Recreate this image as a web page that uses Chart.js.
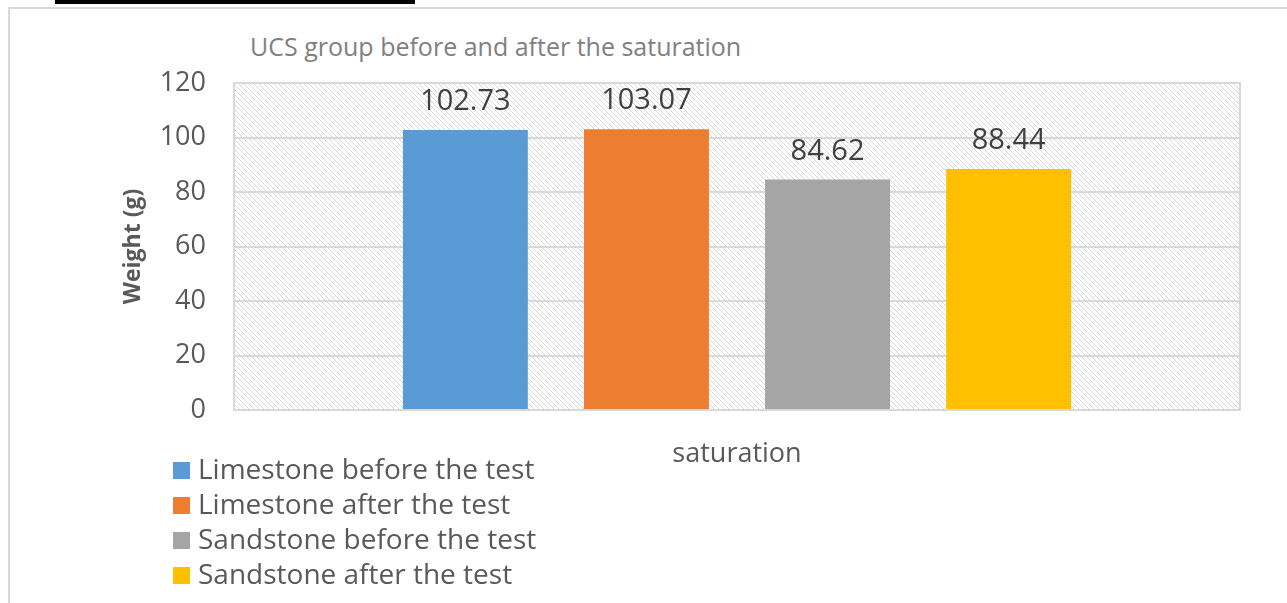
<!DOCTYPE html>
<html>
<head>
<meta charset="utf-8">
<script src="https://cdn.jsdelivr.net/npm/chart.js@4"></script>
<style>
  body { margin: 0; background: #fff; font-family: 'Open Sans', sans-serif; }
  #wrap { position: relative; width: 1287px; height: 603px; overflow: hidden; }
  #frame { position: absolute; left: 8px; top: 7px; width: 1400px; height: 700px;
           border-left: 2px solid #d9d9d9; border-top: 2px solid #d9d9d9; }
  #blackbar { position: absolute; left: 55px; top: 0; width: 360px; height: 4px; background: #000; }
  #title { position: absolute; left: 250px; top: 28px; font-size: 25px; line-height: 36px; color: #808080; white-space: nowrap; }
  #legend { position: absolute; left: 173px; top: 451px; }
  .item { height: 35px; line-height: 35px; font-size: 28px; color: #595959; white-space: nowrap; }
  .box { display: inline-block; width: 17px; height: 17px; margin-right: 8px; vertical-align: 0px; }
  canvas { position: absolute; left: 0; top: 0; }
</style>
</head>
<body>
<div id="wrap">
  <div id="frame"></div>
  <div id="blackbar"></div>
  <div id="title">UCS group before and after the saturation</div>
  <canvas id="chart" width="1287" height="603"></canvas>
  <div id="legend"></div>
</div>
<script>
const categories = ['saturation'];
const seriesNames = [
  'Limestone before the test',
  'Limestone after the test',
  'Sandstone before the test',
  'Sandstone after the test'
];
const seriesValues = [
  [102.73],
  [103.07],
  [84.62],
  [88.44]
];
const seriesColors = ['#5b9bd5', '#ed7d31', '#a5a5a5', '#ffc000'];
const yTicks = [0, 20, 40, 60, 80, 100, 120];

function hatchPattern(ctx) {
  const c = document.createElement('canvas');
  c.width = 5; c.height = 5;
  const p = c.getContext('2d');
  p.fillStyle = '#fff';
  p.fillRect(0, 0, 5, 5);
  p.strokeStyle = '#d9d9d9';
  p.lineWidth = 1;
  p.beginPath();
  p.moveTo(-1, -1); p.lineTo(6, 6);
  p.moveTo(-1, 4); p.lineTo(1, 6);
  p.moveTo(4, -1); p.lineTo(6, 1);
  p.stroke();
  return ctx.createPattern(c, 'repeat');
}

const plotBackground = {
  id: 'plotBackground',
  beforeDraw(chart) {
    const { ctx, chartArea: a } = chart;
    ctx.save();
    ctx.fillStyle = hatchPattern(ctx);
    ctx.fillRect(a.left, a.top, a.right - a.left, a.bottom - a.top);
    ctx.restore();
  },
  afterDraw(chart) {
    const { ctx, chartArea: a } = chart;
    ctx.save();
    ctx.strokeStyle = '#d9d9d9';
    ctx.lineWidth = 2;
    ctx.strokeRect(a.left, a.top, a.right - a.left, a.bottom - a.top);
    ctx.restore();
  }
};

const valueLabels = {
  id: 'valueLabels',
  afterDatasetsDraw(chart) {
    const ctx = chart.ctx;
    ctx.save();
    ctx.font = '29px "Open Sans"';
    ctx.fillStyle = '#404040';
    ctx.textAlign = 'center';
    ctx.textBaseline = 'middle';
    chart.data.datasets.forEach((ds, i) => {
      chart.getDatasetMeta(i).data.forEach((bar, j) => {
        ctx.fillText(ds.data[j].toFixed(2), bar.x, bar.y - 28);
      });
    });
    ctx.restore();
  }
};

const chart = new Chart(document.getElementById('chart'), {
  type: 'bar',
  data: {
    labels: categories,
    datasets: seriesNames.map((name, i) => ({
      label: name,
      data: seriesValues[i],
      backgroundColor: seriesColors[i],
      categoryPercentage: 0.72,
      barPercentage: 0.69
    }))
  },
  options: {
    responsive: false,
    animation: false,
    layout: { padding: { left: 120, top: 83, right: 47, bottom: 138 } },
    plugins: {
      legend: { display: false },
      tooltip: { enabled: false }
    },
    scales: {
      x: {
        afterFit(scale) { scale.height = 55; },
        grid: { display: false, drawTicks: false },
        border: { display: false },
        ticks: { color: '#595959', font: { family: 'Open Sans', size: 27 }, padding: 28 }
      },
      y: {
        min: 0,
        max: 120,
        afterBuildTicks(scale) { scale.ticks = yTicks.map(v => ({ value: v })); },
        afterFit(scale) { scale.width = 114; },
        grid: { color: '#d9d9d9', lineWidth: 2, drawTicks: false },
        border: { display: false },
        ticks: { color: '#595959', font: { family: 'Open Sans', size: 27 }, padding: 28 },
        title: {
          display: true,
          text: 'Weight (g)',
          color: '#595959',
          font: { family: 'Open Sans', size: 23, weight: 'bold' },
          padding: { top: 0, bottom: 0 }
        }
      }
    }
  },
  plugins: [plotBackground, valueLabels]
});

const legend = document.getElementById('legend');
chart.data.datasets.forEach(ds => {
  const row = document.createElement('div');
  row.className = 'item';
  const box = document.createElement('span');
  box.className = 'box';
  box.style.background = ds.backgroundColor;
  row.appendChild(box);
  row.appendChild(document.createTextNode(ds.label));
  legend.appendChild(row);
});
</script>
</body>
</html>
